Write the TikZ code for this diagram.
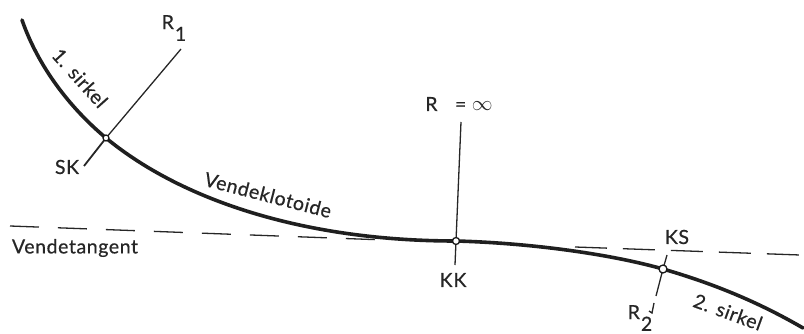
\documentclass[tikz,border=0pt]{standalone}
\usepackage{fontspec}
\setmainfont{Lato}[FakeBold=0.6, AutoFakeBold=false, LetterSpace=3]
\usepackage{tikz}
\usetikzlibrary{calc}
\tikzstyle{pnt}=[inner sep=0pt, minimum size=7pt, draw=black!90, fill=white, shape=circle, line width=1.3pt]
\tikzstyle{txt}=[inner sep=0pt, font=\fontsize{19.5}{22}\selectfont, text=black!85]
\tikzstyle{road}=[line width=3.6pt, black!88, line cap=round]
\tikzstyle{lead}=[line width=1.3pt, black!85]
\tikzset{>=stealth}
\begin{document}
\begin{tikzpicture}[x=1pt, y=-1pt]
\useasboundingbox (0,0) rectangle (804,334);

% main points
\coordinate (A0) at (22,20);
\coordinate (A1) at (803,328);
\coordinate (SK) at (106,138);
\coordinate (KK) at (456,241);
\coordinate (KS) at (663,269);

% free ends of the radius lines
\coordinate (R1end) at (181,49);
\coordinate (SKend) at (84,166);
\coordinate (Rinf) at (461,122);
\coordinate (KKend) at (455,265);
\coordinate (KStop) at (667,255);
\coordinate (R2a) at (656,296);
\coordinate (R2b) at (654,303);
\coordinate (R2c) at (652,313);
\coordinate (R2d) at (649,311);

% vendetangent, one piece each side of the curve
\coordinate (T0) at (10,226);
\coordinate (T1) at (385,240);
\coordinate (T2) at (575,247);
\coordinate (T3) at (800,255);
\draw[lead, dash pattern=on 29pt off 19pt] (T0) -- (T1);
\draw[lead, dash pattern=on 32pt off 16pt] (T2) -- (T3);

\draw[lead] (R1end) -- (SK);
\draw[lead, line width=1.8pt] (SK) -- (SKend);
\draw[lead] (Rinf) -- (KK);
\draw[lead] (KK) -- (KKend);
\draw[lead] (KStop) -- (KS);
\draw[lead] (KS) -- (R2a);
\draw[lead] (R2b) -- (R2c) -- (R2d);

\draw[road] (A0) .. controls (38,66) and (69,107) .. (SK)
  .. controls (185,203) and (310,241) .. (KK)
  .. controls (530,243) and (610,254) .. (KS)
  .. controls (715,284) and (760,303) .. (A1);

\node[pnt, minimum size=6pt] (P0) at (SK) {};
\node[pnt] (P1) at (KK) {};
\node[pnt, minimum size=8pt] (P2) at (KS) {};

\node[txt] (L0) at (174,28) {R\raisebox{-.6em}{\kern1pt 1}};
\node[txt] (L1) at (67,167) {SK};
\node[txt] (L2) at (459,104) {R\kern.9em = $\infty$};
\node[txt] (L3) at (453,280) {K\kern1pt K};
\node[txt] (L4) at (677,237) {KS};
\node[txt] (L5) at (640,318) {R\raisebox{-.6em}{\kern1pt 2}};
\node[txt, rotate=-48] (L6) at (80,78) {1.\kern.4em sirkel};
\node[txt, rotate=-14.5] (L7) at (268,195) {Vendeklotoide};
\node[txt, rotate=-20] (L8) at (728,312) {2.\kern.4em sirkel};
\node[txt] (L9) at (75,248) {Vendetangent};
\end{tikzpicture}
\end{document}
